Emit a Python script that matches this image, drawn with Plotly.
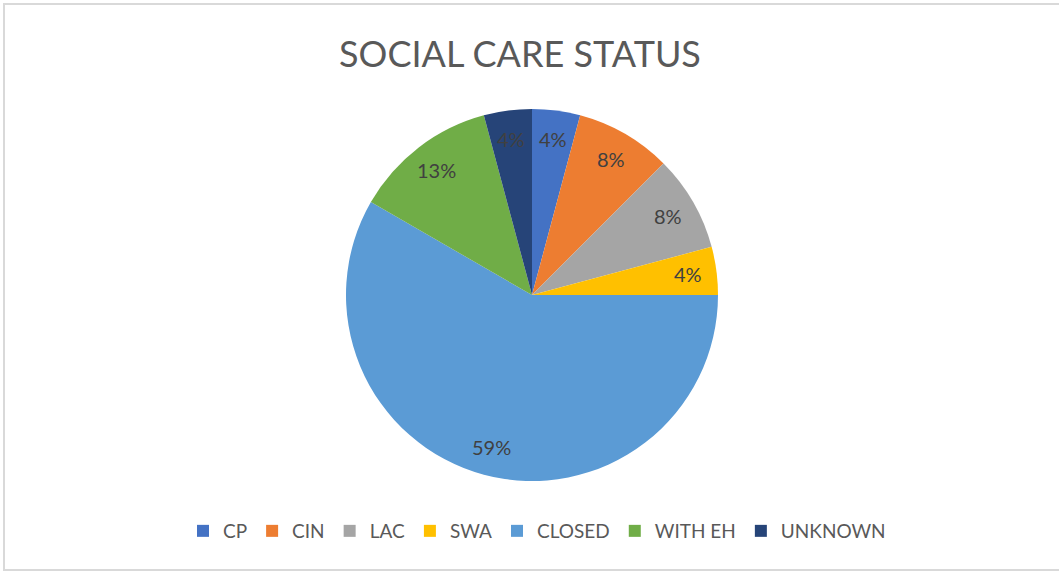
import numpy as np
import plotly.graph_objects as go

categories = ["CP", "CIN", "LAC", "SWA", "CLOSED", "WITH EH", "UNKNOWN"]
shares = [4.17, 8.33, 8.33, 4.17, 58.33, 12.5, 4.17]
pct_labels = ["4%", "8%", "8%", "4%", "59%", "13%", "4%"]
colors = ["#4472C4", "#ED7D31", "#A5A5A5", "#FFC000", "#5B9BD5", "#70AD47", "#264478"]

W, H = 1059, 572
cx, cy, R = 532, 295, 186  # pie centre / radius in px

fig = go.Figure()
fig.add_trace(go.Pie(
    labels=categories, values=shares, sort=False, direction="clockwise", rotation=0,
    marker=dict(colors=colors, line=dict(width=0)),
    textinfo="none", hoverinfo="label+percent",
    domain=dict(x=[(cx - R) / W, (cx + R) / W], y=[(H - cy - R) / H, (H - cy + R) / H]),
))

# data labels at mid-angle of each slice
vals = np.array(shares, dtype=float)
cum = np.cumsum(vals) / vals.sum()
mid = (cum - vals / vals.sum() / 2) * 2 * np.pi
for ang, lab in zip(mid, pct_labels):
    px = cx + 0.845 * R * np.sin(ang)
    py = cy - 0.845 * R * np.cos(ang)
    fig.add_annotation(x=px / W, y=1 - py / H, xref="paper", yref="paper",
                       xanchor="center", yanchor="middle",
                       text=lab, showarrow=False,
                       font=dict(family="Lato", size=20, color="#404040"))

fig.add_shape(type="rect", xref="paper", yref="paper",
              x0=4 / W, x1=1.01, y0=1 - 570 / H, y1=1 - 4 / H,
              line=dict(color="#D9D9D9", width=2))

fig.update_layout(
    width=W, height=H,
    margin=dict(l=0, r=0, t=0, b=0),
    paper_bgcolor="white", plot_bgcolor="white",
    title=dict(text="SOCIAL CARE STATUS", x=520 / W, xanchor="center",
               y=1 - 54 / H, yanchor="middle",
               font=dict(family="Lato", size=36, color="#595959")),
    legend=dict(orientation="h", x=537 / W, xanchor="center", y=1 - 531 / H, yanchor="middle",
                font=dict(family="Lato", size=19, color="#595959"),
                traceorder="normal"),
)

fig.write_html("out.html", config={"displayModeBar": False},
               post_script="document.body.style.margin='0';document.body.style.overflow='hidden';")
